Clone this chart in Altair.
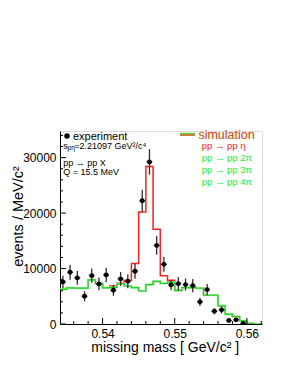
import altair as alt
import pandas as pd
import numpy as np

# ---------------- data ----------------
bin_start = 0.534
bin_width = 0.001
n_bins = 28

# experiment (bin centres = bin_start + (k+0.5)*bin_width)
exp_values = [7590, 9320, 8310, 5000, 8720, 7230, 8850, 6080, 8130, 7700,
              9500, 22210, 29230, 14170, 10760, 7050, 7280, 7100, 6920, 3990,
              6200, 2300, 2550, 630, 750, 100]
exp_errors = [1100, 1350, 1250, 900, 1300, 1150, 1300, 1000, 1250, 1250,
              1350, 2000, 2300, 1700, 1350, 950, 1200, 1100, 1200, 750,
              1000, 550, 650, 350, 350, 100]

# simulation histograms (per bin)
green_values = [6250, 6500, 6480, 6480, 7950, 7300, 6500, 6600, 7250, 6850,
                6550, 5950, 7100, 7700, 7300, 7550, 6050, 6550, 6550, 6450,
                5180, 5180, 3280, 1780, 1350, 570, 90, 0]
red_values = [6250, 6500, 6480, 6480, 7950, 7300, 6500, 6850, 7350, 7850,
              10900, 20200, 28400, 17100, 8700, 7900, 6050, 6550, 6550, 6450,
              5180, 5180, 3280, 1780, 1350, 570, 90, 0]

x_ticks_major = [0.54, 0.55, 0.56]
x_ticks_minor = [0.536, 0.538, 0.542, 0.544, 0.546, 0.548, 0.552, 0.554,
                 0.556, 0.558, 0.562]
y_ticks_major = [0, 10000, 20000, 30000]
y_ticks_minor = [2000, 4000, 6000, 8000, 12000, 14000, 16000, 18000,
                 22000, 24000, 26000, 28000, 32000, 34000]

legend_sim = ["pp \u2192 pp \u03b7", "pp \u2192 pp 2\u03c0",
              "pp \u2192 pp 3\u03c0", "pp \u2192 pp 4\u03c0"]
legend_sim_colors = ["#ff1a1a", "#22ee22", "#22ee22", "#22ee22"]

# ---------------- tables ----------------
edges = np.round(bin_start + bin_width * np.arange(n_bins + 1), 4)
centers = np.round(bin_start + bin_width * (np.arange(len(exp_values)) + 0.5), 4)

exp_df = pd.DataFrame({
    "x": centers,
    "y": exp_values,
    "ylo": np.array(exp_values) - np.array(exp_errors),
    "yhi": np.array(exp_values) + np.array(exp_errors),
    "xlo": centers - 0.0004,
    "xhi": centers + 0.0004,
})

def step_df(vals):
    return pd.DataFrame({"x": edges, "y": list(vals) + [vals[-1]],
                         "i": np.arange(n_bins + 1)})

green_df = step_df(green_values)
red_df = step_df(red_values)

W, H = 202, 193
FONT = "Liberation Sans"
xscale = alt.Scale(domain=[0.5341, 0.5621], nice=False, zero=False)
yscale = alt.Scale(domain=[0, 34800], nice=False)

xaxis = alt.Axis(values=x_ticks_major, format=".2f", ticks=False, grid=False,
                 labelFontSize=12, labelPadding=4, labelColor="black",
                 labelFont=FONT, titleFont=FONT,
                 domainColor="black", title="missing mass [ GeV/c\u00b2 ]",
                 titleFontSize=14, titleFontWeight="normal", titleColor="black",
                 titleX=104.7, titleY=27.8, titleAlign="center",
                 titleBaseline="alphabetic")
yaxis = alt.Axis(values=y_ticks_major, format="d", ticks=False, grid=False,
                 labelFontSize=12, labelPadding=4, labelColor="black",
                 labelFont=FONT, titleFont=FONT,
                 domainColor="black", title="events / MeV/c\u00b2",
                 titleFontSize=14.5, titleFontWeight="normal", titleColor="black",
                 titleX=-38, titleY=85, titleAlign="center", titleAngle=-90,
                 titleBaseline="alphabetic")

def X(field):
    return alt.X(field, scale=xscale, axis=xaxis)

def Y(field):
    return alt.Y(field, scale=yscale, axis=yaxis)

red_line = alt.Chart(red_df).mark_line(
    interpolate="step-after", color="#ff2020", strokeWidth=1.5, clip=True
).encode(x=X("x:Q"), y=Y("y:Q"), order="i:Q")

green_light = alt.Chart(green_df).mark_line(
    interpolate="step-after", color="#9cf09c", strokeWidth=2.2, clip=True
).encode(x=X("x:Q"), y=Y("y:Q"), order="i:Q")

green_line = alt.Chart(green_df).mark_line(
    interpolate="step-after", color="#22d022", strokeWidth=1.2, clip=True
).encode(x=X("x:Q"), y=Y("y:Q"), order="i:Q")

err_v = alt.Chart(exp_df).mark_rule(color="#3a2a2a", strokeWidth=1.3, clip=True).encode(
    x=X("x:Q"), y=Y("ylo:Q"), y2="yhi:Q")
err_h = alt.Chart(exp_df).mark_rule(color="#222", strokeWidth=1.3, clip=True).encode(
    x=X("xlo:Q"), x2="xhi:Q", y=Y("y:Q"))
pts = alt.Chart(exp_df).mark_circle(color="black", size=24, opacity=1, clip=True).encode(
    x=X("x:Q"), y=Y("y:Q"))

# inside tick marks
def xticks(vals, length):
    return alt.Chart(pd.DataFrame({"x": vals})).mark_rule(
        color="black", strokeWidth=1, clip=True).encode(
        x=X("x:Q"), y=alt.value(H), y2=alt.value(H - length))

def yticks(vals, length):
    return alt.Chart(pd.DataFrame({"y": vals})).mark_rule(
        color="black", strokeWidth=1, clip=True).encode(
        y=Y("y:Q"), x=alt.value(0), x2=alt.value(length))

# annotation text
def txt(s, x, y, size, color="black", **kw):
    return alt.Chart(pd.DataFrame({"t": [s]})).mark_text(
        align="left", baseline="middle", fontSize=size, font=FONT, color=color, **kw
    ).encode(x=alt.value(x), y=alt.value(y), text="t:N")

leg_dot = alt.Chart(pd.DataFrame({"t": ["experiment"]})).mark_circle(
    color="black", size=30, opacity=1).encode(x=alt.value(7), y=alt.value(5))

texts = [
    txt("experiment", 13, 5.5, 11),
    txt("s", 3.3, 14.5, 9),
    txt("p\u03b7", 7.6, 16.5, 6.5),
    txt("=2.21097 GeV\u00b2/c\u2074", 14.2, 14.5, 9),
    txt("pp \u2192 pp X", 3.3, 32.3, 9),
    txt("Q = 15.5 MeV", 3.3, 41.3, 9),
    txt("simulation", 138.4, 3.8, 12.5, "#ff1010", stroke="#33ee33",
        strokeWidth=0.2, strokeOpacity=0.8),
]
for i, (s, c) in enumerate(zip(legend_sim, legend_sim_colors)):
    texts.append(txt(s, 141.7, 15.4 + 11.7 * i, 9.5, c))

leg_line_g = alt.Chart(pd.DataFrame({"t": ["g"]})).mark_rule(
    color="#55dd33", strokeWidth=1.5).encode(
    x=alt.value(120), x2=alt.value(135), y=alt.value(2.5))
leg_line_r = alt.Chart(pd.DataFrame({"t": ["r"]})).mark_rule(
    color="#bb5511", strokeWidth=1.5).encode(
    x=alt.value(120), x2=alt.value(135), y=alt.value(4))

chart = alt.layer(
    red_line, green_light, green_line,
    xticks(x_ticks_minor, 3), xticks(x_ticks_major, 6),
    yticks(y_ticks_minor, 3), yticks(y_ticks_major, 6),
    err_v, err_h, pts,
    leg_dot, leg_line_g, leg_line_r, *texts
).properties(
    width=W, height=H,
    padding={"left": 52, "top": 123, "right": 21, "bottom": 40},
    autosize=alt.AutoSizeParams(type="none"),
    background="white",
).configure_view(stroke="black", strokeWidth=1).configure(font=FONT)

chart.save("out.html", embed_options={"renderer": "svg", "actions": False})
